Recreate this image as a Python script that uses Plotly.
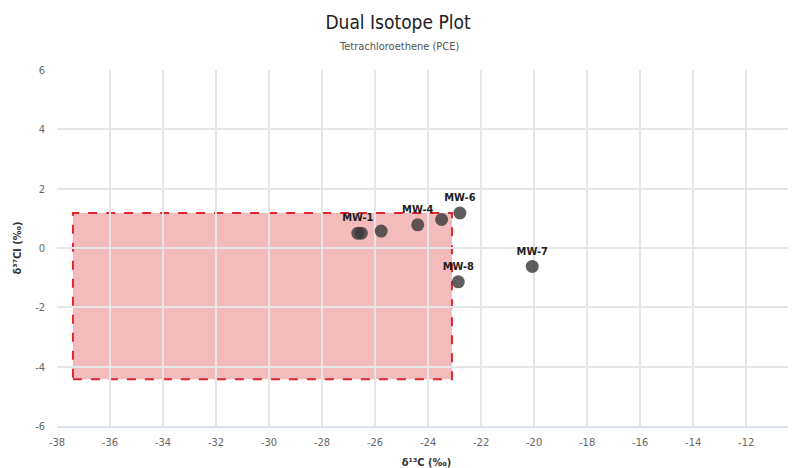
import plotly.graph_objects as go

# Data
well_x = [-26.65, -26.52, -25.77, -24.39, -23.49, -22.80, -20.07, -22.86]
well_y = [0.50, 0.50, 0.57, 0.78, 0.96, 1.18, -0.62, -1.14]
well_labels = ["MW-1", "", "", "MW-4", "", "MW-6", "MW-7", "MW-8"]

box_x = [-37.4, -23.1]
box_y = [-4.42, 1.18]

x_ticks = list(range(-38, -9, 2))
x_ticktext = [str(v) for v in x_ticks]
y_ticks = list(range(-6, 7, 2))
y_ticktext = [str(v) for v in y_ticks]

FONT = "DejaVu Sans Condensed, Lato, sans-serif"

fig = go.Figure()

fig.add_shape(
    type="rect", xref="x", yref="y",
    x0=box_x[0], x1=box_x[1], y0=box_y[0], y1=box_y[1],
    fillcolor="rgba(232,120,122,0.5)",
    line=dict(color="#e0262d", width=2, dash="dash"),
    layer="below",
)

fig.add_trace(go.Scatter(
    x=well_x, y=well_y, mode="markers+text",
    text=well_labels, textposition="top center",
    textfont=dict(family=FONT, size=11, color="#222", weight="bold"),
    marker=dict(size=13, color="rgba(55,55,55,0.8)", line=dict(width=0)),
    hoverinfo="x+y+text", showlegend=False,
))

fig.update_layout(
    width=796, height=468,
    margin=dict(l=47, r=8, t=62, b=50),
    paper_bgcolor="white", plot_bgcolor="white",
    title=dict(text="Dual Isotope Plot", x=(398 - 8) / 796, xanchor="center",
               y=1 - 14 / 468, yanchor="middle", yref="container",
               font=dict(family=FONT, size=19, color="#222")),
    font=dict(family=FONT, color="#666"),
    annotations=[dict(text="Tetrachloroethene (PCE)", xref="paper", yref="paper",
                      x=(390 - 47) / 741, y=(418 - 39) / 356, xanchor="center", yanchor="middle",
                      showarrow=False, font=dict(family=FONT, size=11, color="#555"))],
    xaxis=dict(range=[-38, -10.12], tickvals=x_ticks, ticktext=x_ticktext,
               showgrid=True, gridcolor="#e6e6e6", gridwidth=1.5,
               zeroline=False, showline=True, linecolor="#dde3ee", linewidth=1.5,
               ticks="", ticklabelstandoff=5,
               tickfont=dict(family=FONT, size=11, color="#666"),
               title=dict(text="δ¹³C (‰)", standoff=10,
                          font=dict(family=FONT, size=11, color="#333", weight="bold"))),
    yaxis=dict(range=[-6, 6], tickvals=y_ticks, ticktext=y_ticktext,
               showgrid=True, gridcolor="#e6e6e6", gridwidth=1.5,
               zeroline=False, showline=False,
               ticks="", ticklabelstandoff=11,
               tickfont=dict(family=FONT, size=11, color="#666"),
               title=dict(text="δ³⁷Cl (‰)", standoff=11,
                          font=dict(family=FONT, size=11, color="#333", weight="bold"))),
)

fig.write_html("out.html")
